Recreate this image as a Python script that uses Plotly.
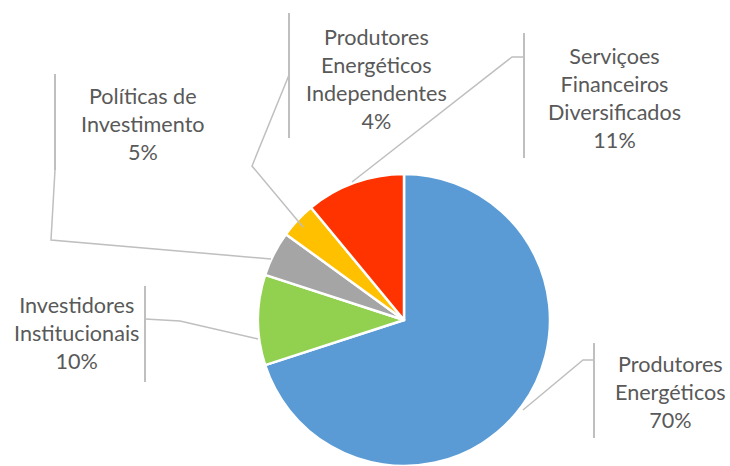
import plotly.graph_objects as go

categories = ["Produtores Energéticos", "Investidores Institucionais", "Políticas de Investimento",
              "Produtores Energéticos Independentes", "Serviços Financeiros Diversificados"]
values = [70, 10, 5, 4, 11]
label_lines = [
    ["Produtores", "Energéticos"],
    ["Investidores", "Institucionais"],
    ["Políticas de", "Investimento"],
    ["Produtores", "Energéticos", "Independentes"],
    ["Serviçoes", "Financeiros", "Diversificados"],
]
colors = ["#5B9BD5", "#92D050", "#A5A5A5", "#FFC000", "#FF3300"]

W, H = 730, 466
fig = go.Figure()
fig.add_trace(go.Pie(
    labels=categories, values=values, sort=False, direction="clockwise", rotation=0,
    marker=dict(colors=colors, line=dict(color="white", width=2.5)),
    textinfo="none", hoverinfo="label+percent", showlegend=False,
    domain=dict(x=[(404 - 146) / W, (404 + 146) / W], y=[0, 292 / H]),
))

# label placement (pixel positions of label centre), leader lines, label side bars
label_pos = [(670, 392), (76.5, 333), (143, 123.5), (376, 78.5), (614.5, 97.5)]
leaders = [
    [(523, 410), (583, 360), (594, 360)],
    [(258, 339), (180, 321), (145, 319)],
    [(271, 259), (51, 240), (55, 170)],
    [(303, 227), (252, 166), (289, 75)],
    [(352, 182), (512, 57), (524, 57)],
]
bars = [(594, 343, 438), (145, 286, 382), (55, 74, 170), (289, 13, 138), (524, 33, 158)]

total = sum(values)
for lines, v, (x, y) in zip(label_lines, values, label_pos):
    txt = "<br>".join(lines + [f"{round(100 * v / total)}%"])
    fig.add_annotation(x=x, y=y, xref="x", yref="y", text=txt, showarrow=False,
                       xanchor="center", yanchor="middle", align="center",
                       font=dict(family="Lato", size=21.6, color="#595959"))

for pts in leaders:
    path = "M " + " L ".join(f"{px},{py}" for px, py in pts)
    fig.add_shape(type="path", path=path, xref="x", yref="y",
                  line=dict(color="#BFBFBF", width=1.5))
for bx, y0, y1 in bars:
    fig.add_shape(type="line", x0=bx, x1=bx, y0=y0, y1=y1, xref="x", yref="y",
                  line=dict(color="#BFBFBF", width=2))

fig.update_layout(
    width=W, height=H, margin=dict(l=0, r=0, t=0, b=0),
    paper_bgcolor="white", plot_bgcolor="rgba(0,0,0,0)",
    xaxis=dict(range=[0, W], visible=False, fixedrange=True),
    yaxis=dict(range=[H, 0], visible=False, fixedrange=True),
)
fig.write_html("out.html", config={"displayModeBar": False},
               post_script="document.body.style.margin='0';document.body.style.overflow='hidden';")
